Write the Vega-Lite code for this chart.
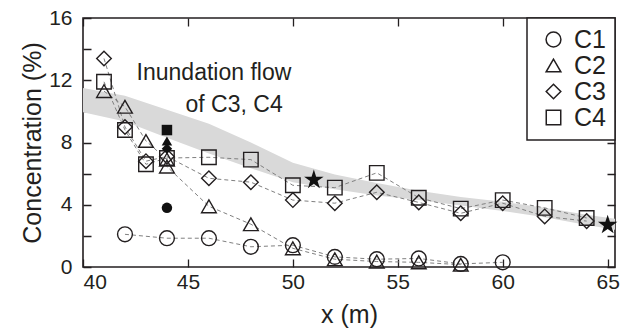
{
  "$schema": "https://vega.github.io/schema/vega-lite/v6.json",
  "width": 532,
  "height": 249,
  "autosize": {"type": "none"},
  "padding": {"left": 83, "top": 18, "right": 9, "bottom": 64},
  "background": "white",
  "config": {
    "font": "Liberation Sans",
    "view": {"stroke": "#231f20", "strokeWidth": 1.6},
    "axis": {
      "domain": false,
      "labelColor": "#231f20",
      "labelFontSize": 21,
      "labelFont": "Liberation Sans",
      "titleFont": "Liberation Sans",
      "titleFontSize": 25,
      "titleFontWeight": "normal",
      "titleColor": "#231f20"
    },
    "legend": {
      "orient": "top-right",
      "offset": 0,
      "padding": 9,
      "strokeColor": "#231f20",
      "strokeWidth": 1.5,
      "fillColor": "white",
      "labelFontSize": 25,
      "labelFont": "Liberation Sans",
      "labelColor": "#231f20",
      "labelOffset": 8,
      "symbolOffset": 5,
      "rowPadding": 0,
      "symbolStrokeWidth": 1.5,
      "symbolStrokeColor": "#231f20"
    }
  },
  "datasets": {
    "band": [
      {"x": 40, "lo": 9.95, "hi": 11.5},
      {"x": 42, "lo": 9.35, "hi": 11.0},
      {"x": 44, "lo": 8.3, "hi": 10.1},
      {"x": 46, "lo": 7.3, "hi": 9.2},
      {"x": 48, "lo": 6.35, "hi": 8.0},
      {"x": 50, "lo": 5.45, "hi": 6.7},
      {"x": 52, "lo": 5.0, "hi": 5.95},
      {"x": 54, "lo": 4.6, "hi": 5.4},
      {"x": 56, "lo": 4.3, "hi": 4.9},
      {"x": 58, "lo": 3.95, "hi": 4.5},
      {"x": 60, "lo": 3.6, "hi": 4.2},
      {"x": 62, "lo": 3.2, "hi": 3.8},
      {"x": 64, "lo": 2.7, "hi": 3.35},
      {"x": 65.35, "lo": 2.4, "hi": 3.1}
    ],
    "pts": [
      {"x": 42, "c": 2.1, "s": "C1"},
      {"x": 44, "c": 1.85, "s": "C1"},
      {"x": 46, "c": 1.85, "s": "C1"},
      {"x": 48, "c": 1.3, "s": "C1"},
      {"x": 50, "c": 1.4, "s": "C1"},
      {"x": 52, "c": 0.65, "s": "C1"},
      {"x": 54, "c": 0.5, "s": "C1"},
      {"x": 56, "c": 0.55, "s": "C1"},
      {"x": 58, "c": 0.2, "s": "C1"},
      {"x": 60, "c": 0.3, "s": "C1"},
      {"x": 41, "c": 11.3, "s": "C2"},
      {"x": 42, "c": 10.3, "s": "C2"},
      {"x": 43, "c": 8.1, "s": "C2"},
      {"x": 44, "c": 6.9, "s": "C2"},
      {"x": 44, "c": 6.45, "s": "C2"},
      {"x": 46, "c": 3.9, "s": "C2"},
      {"x": 48, "c": 2.75, "s": "C2"},
      {"x": 50, "c": 1.2, "s": "C2"},
      {"x": 52, "c": 0.5, "s": "C2"},
      {"x": 54, "c": 0.35, "s": "C2"},
      {"x": 56, "c": 0.3, "s": "C2"},
      {"x": 58, "c": 0.15, "s": "C2"},
      {"x": 41, "c": 13.4, "s": "C3"},
      {"x": 42, "c": 9.0, "s": "C3"},
      {"x": 43, "c": 6.8, "s": "C3"},
      {"x": 44, "c": 7.1, "s": "C3"},
      {"x": 46, "c": 5.7, "s": "C3"},
      {"x": 48, "c": 5.45, "s": "C3"},
      {"x": 50, "c": 4.3, "s": "C3"},
      {"x": 52, "c": 4.1, "s": "C3"},
      {"x": 54, "c": 4.8, "s": "C3"},
      {"x": 56, "c": 4.15, "s": "C3"},
      {"x": 58, "c": 3.45, "s": "C3"},
      {"x": 60, "c": 4.1, "s": "C3"},
      {"x": 62, "c": 3.25, "s": "C3"},
      {"x": 64, "c": 2.95, "s": "C3"},
      {"x": 41, "c": 11.9, "s": "C4"},
      {"x": 42, "c": 8.8, "s": "C4"},
      {"x": 43, "c": 6.6, "s": "C4"},
      {"x": 44, "c": 7.0, "s": "C4"},
      {"x": 46, "c": 7.05, "s": "C4"},
      {"x": 48, "c": 6.9, "s": "C4"},
      {"x": 50, "c": 5.25, "s": "C4"},
      {"x": 52, "c": 5.1, "s": "C4"},
      {"x": 54, "c": 6.05, "s": "C4"},
      {"x": 56, "c": 4.45, "s": "C4"},
      {"x": 58, "c": 3.75, "s": "C4"},
      {"x": 60, "c": 4.3, "s": "C4"},
      {"x": 62, "c": 3.8, "s": "C4"},
      {"x": 64, "c": 3.15, "s": "C4"}
    ],
    "filled": [
      {"x": 44, "c": 3.8, "s": "C1"},
      {"x": 44, "c": 8.1, "s": "C2"},
      {"x": 44, "c": 7.6, "s": "C3"},
      {"x": 44, "c": 8.8, "s": "C4"}
    ],
    "stars": [
      {"x": 51, "c": 5.6},
      {"x": 65, "c": 2.7}
    ],
    "notes": [
      {"x": 46.24, "c": 12.0, "t": "Inundation flow"},
      {"x": 47.2, "c": 9.95, "t": "of C3, C4"}
    ]
  },
  "layer": [
    {
      "data": {"name": "band"},
      "mark": {"type": "area", "color": "#d9d9d9", "opacity": 1},
      "encoding": {
        "x": {
          "field": "x", "type": "quantitative",
          "scale": {"domain": [40, 65.35], "nice": false, "zero": false},
          "axis": {"orient": "bottom", "values": [40, 45, 50, 55, 60, 65], "ticks": false, "grid": true, "gridColor": "#231f20", "gridOpacity": 1, "gridWidth": 1.3, "gridDash": [8, 233, 8, 0], "title": "x (m)", "labelPadding": 4, "titlePadding": 10}
        },
        "y": {
          "field": "lo", "type": "quantitative",
          "scale": {"domain": [0, 16], "nice": false, "zero": false},
          "axis": {"orient": "left", "values": [0, 2, 4, 6, 8, 10, 12, 14, 16], "ticks": false, "grid": true, "gridColor": "#231f20", "gridOpacity": 1, "gridWidth": 1.3, "gridDash": [8, 516, 8, 0], "labelExpr": "datum.value % 4 === 0 ? datum.label : ''", "title": "Concentration (%)", "labelPadding": 11, "titlePadding": 3}
        },
        "y2": {"field": "hi"}
      }
    },
    {
      "data": {"name": "pts"},
      "mark": {"type": "line", "color": "#808080", "strokeWidth": 1, "strokeDash": [4, 3]},
      "encoding": {
        "x": {"field": "x", "type": "quantitative", "axis": null},
        "y": {"field": "c", "type": "quantitative", "axis": null},
        "detail": {"field": "s", "type": "nominal"}
      }
    },
    {
      "data": {"name": "pts"},
      "mark": {"type": "point", "filled": false, "color": "#231f20", "strokeWidth": 1.4, "opacity": 1},
      "encoding": {
        "x": {"field": "x", "type": "quantitative", "axis": null},
        "y": {"field": "c", "type": "quantitative", "axis": null},
        "shape": {
          "field": "s", "type": "nominal",
          "scale": {"domain": ["C1", "C2", "C3", "C4"], "range": ["circle", "triangle-up", "diamond", "square"]},
          "legend": {"title": null}
        },
        "size": {
          "field": "s", "type": "nominal",
          "scale": {"domain": ["C1", "C2", "C3", "C4"], "range": [220, 210, 220, 130]},
          "legend": {"title": null}
        }
      }
    },
    {
      "data": {"name": "filled"},
      "mark": {"type": "point", "filled": true, "color": "#111111", "size": 110, "opacity": 1},
      "encoding": {
        "x": {"field": "x", "type": "quantitative", "axis": null},
        "y": {"field": "c", "type": "quantitative", "axis": null},
        "shape": {"field": "s", "type": "nominal", "legend": null}
      }
    },
    {
      "data": {"name": "stars"},
      "mark": {"type": "point", "filled": true, "color": "#111111", "size": 420, "opacity": 1,
        "shape": "M0,-1L0.223,-0.307L0.951,-0.309L0.361,0.117L0.588,0.809L0,0.38L-0.588,0.809L-0.361,0.117L-0.951,-0.309L-0.223,-0.307Z"},
      "encoding": {
        "x": {"field": "x", "type": "quantitative", "axis": null},
        "y": {"field": "c", "type": "quantitative", "axis": null}
      }
    },
    {
      "data": {"name": "notes"},
      "mark": {"type": "text", "fontSize": 23, "font": "Liberation Sans", "color": "#231f20", "align": "center", "baseline": "alphabetic"},
      "encoding": {
        "x": {"field": "x", "type": "quantitative", "axis": null},
        "y": {"field": "c", "type": "quantitative", "axis": null},
        "text": {"field": "t"}
      }
    }
  ],
  "resolve": {"axis": {"x": "independent", "y": "independent"}}
}
